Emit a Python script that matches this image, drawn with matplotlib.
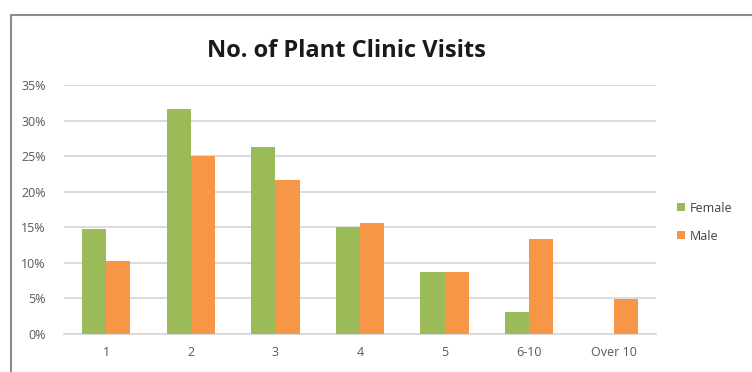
import matplotlib
matplotlib.use("Agg")
import matplotlib.pyplot as plt
import numpy as np
from matplotlib.patches import Rectangle
from matplotlib.ticker import PercentFormatter

# visit counts per person, share of respondents (%)
categories = ['1', '2', '3', '4', '5', '6-10', 'Over 10']
female = [14.8, 31.6, 26.3, 15.0, 8.7, 3.1, 0.0]
male = [10.3, 25.0, 21.7, 15.6, 8.7, 13.3, 4.9]

green = '#9BBB59'
orange = '#F79646'
grey_text = '#595959'

plt.rcParams['font.family'] = ['Open Sans', 'DejaVu Sans']

fig = plt.figure(figsize=(7.52, 3.72), dpi=100)

# chart frame, runs off the right and bottom edges
fig.patches.append(Rectangle((11 / 752, -0.05), 1.0, 1 - 15 / 372 + 0.05,
                             transform=fig.transFigure, fill=False,
                             edgecolor='#8c8c8c', linewidth=1.5))

ax = fig.add_axes([64 / 752, 1 - 334 / 372, 592 / 752, 249 / 372])

x = np.arange(len(categories))
w = 0.285
ax.bar(x - w / 2, female, w, color=green, label='Female', zorder=3)
ax.bar(x + w / 2, male, w, color=orange, label='Male', zorder=3)

ax.set_xlim(-0.5, len(categories) - 0.5)
ax.set_ylim(0, 35)
ax.set_yticks(range(0, 36, 5))
ax.yaxis.set_major_formatter(PercentFormatter(decimals=0))
ax.set_xticks(x)
ax.set_xticklabels(categories)

ax.grid(axis='y', color='#d9d9d9', linewidth=1.3, zorder=0)
for side in ['top', 'right', 'left']:
    ax.spines[side].set_visible(False)
ax.spines['bottom'].set_color('#d9d9d9')
ax.spines['bottom'].set_linewidth(1.3)
ax.tick_params(axis='both', length=0, labelsize=9, labelcolor=grey_text)
ax.tick_params(axis='x', pad=9)
ax.tick_params(axis='y', pad=13)

fig.text(346 / 752, 1 - 51 / 372, 'No. of Plant Clinic Visits',
         ha='center', va='center', fontsize=17, fontweight='bold', color='#1a1a1a')

fig.legend(loc='center left', bbox_to_anchor=(677 / 752, 1 - 222 / 372),
           frameon=False, fontsize=9, handlelength=0.6, handleheight=0.6,
           handletextpad=0.4, labelspacing=1.2, labelcolor='#404040',
           borderaxespad=0, borderpad=0)

fig.savefig('out.png', dpi=100, facecolor='white')
